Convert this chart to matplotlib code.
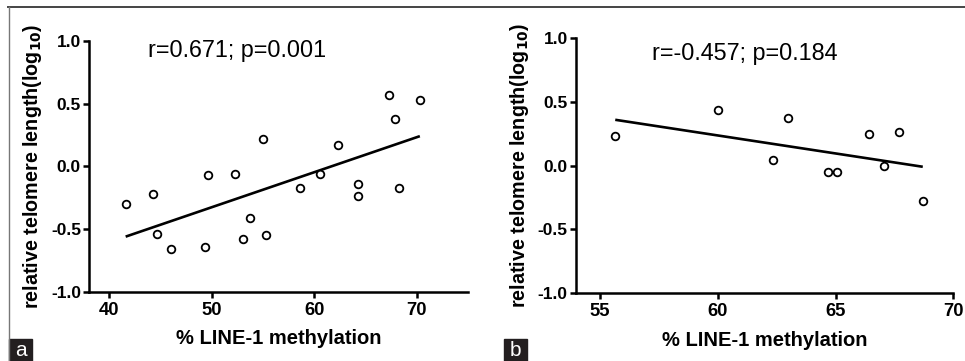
import numpy as np
import matplotlib
matplotlib.use("Agg")
import matplotlib.pyplot as plt
from matplotlib.lines import Line2D
from matplotlib.patches import Rectangle

plt.rcParams['font.family'] = ['Liberation Sans', 'DejaVu Sans']

# panel a: % LINE-1 methylation vs relative telomere length (log10)
meth_a = [41.6, 44.3, 44.65, 46.0, 49.3, 49.6, 52.3, 53.0, 53.7, 55.0,
          55.3, 58.6, 60.6, 62.3, 64.3, 64.3, 67.25, 67.9, 68.3, 70.3]
telo_a = [-0.30, -0.22, -0.54, -0.66, -0.64, -0.07, -0.06, -0.58, -0.41, 0.22,
          -0.55, -0.17, -0.06, 0.17, -0.14, -0.24, 0.57, 0.38, -0.175, 0.53]
stat_a = "r=0.671; p=0.001"

# panel b
meth_b = [55.66, 60.0, 62.35, 63.0, 64.7, 65.05, 66.4, 67.05, 67.7, 68.7]
telo_b = [0.23, 0.44, 0.04, 0.37, -0.05, -0.05, 0.25, 0.0, 0.265, -0.28]
stat_b = "r=-0.457; p=0.184"

ylabel = "relative telomere length(log$_{\\mathbf{10}}$)"
xlabel = "% LINE-1 methylation"

fig = plt.figure(figsize=(9.65, 3.61), dpi=100)

def panel(rect, x, y, stat, xlim, xticks, text_x, text_y, tag, tag_x):
    ax = fig.add_axes(rect)
    x = np.array(x)
    y = np.array(y)
    b, a = np.polyfit(x, y, 1)
    xs = np.array([x.min(), x.max()])
    ax.plot(xs, b * xs + a, color='black', lw=1.9, solid_capstyle='butt')
    ax.plot(x, y, 'o', mfc='white', mec='black', ms=5.5, mew=1.3)
    ax.set_xlim(*xlim)
    ax.set_ylim(-1.0, 1.0)
    ax.set_xticks(xticks)
    ax.set_yticks([-1.0, -0.5, 0.0, 0.5, 1.0])
    ax.set_yticklabels(['-1.0', '-0.5', '0.0', '0.5', '1.0'])
    for s in ['top', 'right']:
        ax.spines[s].set_visible(False)
    for s in ['left', 'bottom']:
        ax.spines[s].set_linewidth(1.8)
    ax.tick_params(width=1.8, length=4.5)
    ax.tick_params(axis='x', labelsize=13.3, pad=3)
    ax.tick_params(axis='y', labelsize=12.5, pad=1.5)
    for lab in ax.get_xticklabels() + ax.get_yticklabels():
        lab.set_fontweight('bold')
    ax.set_xlabel(xlabel, fontsize=14.5, fontweight='bold')
    ax.xaxis.set_label_coords(0.5, -0.15)
    ax.set_ylabel(ylabel, fontsize=14.2, fontweight='bold', va='center')
    ax.yaxis.set_label_coords(-0.149, 0.5)
    fig.text(text_x, text_y, stat, fontsize=16.8, ha='left', va='baseline')
    # panel tag box
    fig.patches.append(Rectangle((tag_x, 0.0), 23 / 965, 22 / 361,
                                 transform=fig.transFigure, color='#231f20'))
    fig.text(tag_x + 11.5 / 965, 11 / 361, tag, color='white', fontsize=15,
             ha='center', va='center')
    return ax

panel([0.0925, 0.192, 0.3925, 0.695], meth_a, telo_a, stat_a,
      (38.05, 75.0), [40, 50, 60, 70], 148 / 965, 1 - 57.3 / 361, 'a', 9 / 965)
panel([0.597, 0.189, 0.391, 0.705], meth_b, telo_b, stat_b,
      (54.0, 70.0), [55, 60, 65, 70], 652 / 965, 1 - 60 / 361, 'b', 504 / 965)

# outer frame (top and left edges)
fig.add_artist(Line2D([8 / 965, 1.0], [1 - 7 / 361, 1 - 7 / 361],
                      color='#444444', lw=1.4, transform=fig.transFigure))
fig.add_artist(Line2D([9 / 965, 9 / 965], [0.0, 1 - 7 / 361],
                      color='#777777', lw=1.0, transform=fig.transFigure))

fig.savefig("out.png", dpi=100)
